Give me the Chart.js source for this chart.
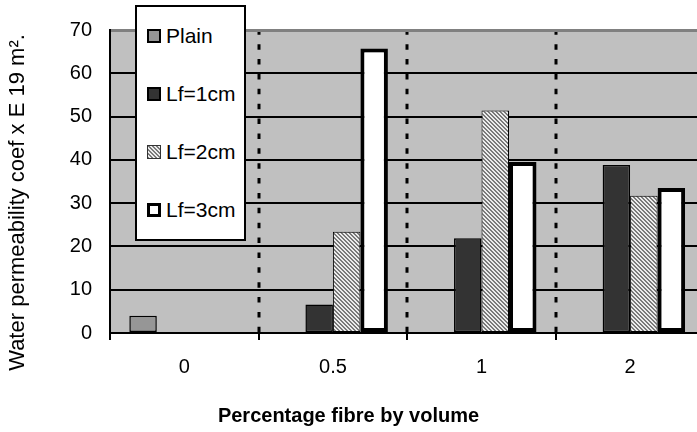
<!DOCTYPE html>
<html lang="en">
<head>
  <meta charset="UTF-8" />
  <title>Water permeability vs fibre content</title>
  <script src="https://cdn.jsdelivr.net/npm/chart.js"></script>
  <style>
    body { margin: 0; background: #fff; overflow: hidden; }
    #wrap { position: relative; width: 697px; height: 432px; }
    #legend {
      position: absolute; left: 135px; top: 5px; width: 111px; height: 236px;
      box-sizing: border-box; border: 2px solid #000; background: #fff;
      display: flex; flex-direction: column; justify-content: space-around;
      font: 21px "Liberation Sans", Arial, sans-serif; color: #000;
    }
    .item { display: flex; align-items: center; padding-left: 10px; }
    .swatch { width: 14px; height: 14px; box-sizing: border-box; margin-right: 5px; }
  </style>
</head>
<body>
  <div id="wrap">
    <canvas id="chart"></canvas>
    <div id="legend"></div>
  </div>

  <script>
    // values
    const categories = ['0', '0.5', '1', '2'];
    const seriesNames = ['Plain', 'Lf=1cm', 'Lf=2cm', 'Lf=3cm'];
    const plain = [4.0, null, null, null];
    const lf1cm = [null, 6.6, 21.9, 38.8];
    const lf2cm = [null, 23.4, 51.4, 31.7];
    const lf3cm = [null, 65.7, 39.5, 33.5];
    const yMin = 0, yMax = 70, yStep = 10;

    const xTitle = 'Percentage fibre by volume';
    const yTitle = 'Water permeability coef x E 19 m\u00B2.';

    Chart.defaults.font.family = '"Liberation Sans", Arial, sans-serif';
    Chart.defaults.color = '#000';

    // fine diagonal hatch used for the Lf=2cm bars
    function makeHatch() {
      const c = document.createElement('canvas');
      c.width = 4; c.height = 4;
      const g = c.getContext('2d');
      g.fillStyle = '#ececec';
      g.fillRect(0, 0, 4, 4);
      g.fillStyle = '#7a7a7a';
      for (let y = 0; y < 4; y++) {
        for (let x = 0; x < 4; x++) {
          if ((x - y + 4) % 4 < 2) g.fillRect(x, y, 1, 1);
        }
      }
      return c;
    }
    const hatchCanvas = makeHatch();
    const hatch = document.getElementById('chart').getContext('2d').createPattern(hatchCanvas, 'repeat');

    const fills = ['#969696', '#333333', hatch, '#ffffff'];
    const borders = [1.5, 1.5, 1, 4];

    const toPoints = arr => arr.map((v, i) => ({ x: i, y: v }));

    // grey plot area
    const plotBg = {
      id: 'plotBg',
      beforeDraw(chart) {
        const { ctx, chartArea: a } = chart;
        ctx.save();
        ctx.fillStyle = '#c0c0c0';
        ctx.fillRect(a.left, a.top, a.right - a.left, a.bottom - a.top);
        ctx.restore();
      }
    };

    // dotted separators between categories + tick marks below the axis
    const separators = {
      id: 'separators',
      beforeDatasetsDraw(chart) {
        const { ctx, chartArea: a, scales: { x } } = chart;
        ctx.save();
        ctx.strokeStyle = '#000';
        for (let i = -1; i < categories.length; i++) {
          const px = Math.round(x.getPixelForValue(i + 0.5));
          if (px > a.right) continue;
          if (i >= 0) {
            ctx.lineWidth = 3;
            ctx.setLineDash([5.5, 9.38]);
            ctx.lineDashOffset = 2.75;
            ctx.beginPath();
            ctx.moveTo(px, a.top + 2);
            ctx.lineTo(px, a.bottom);
            ctx.stroke();
          }
          ctx.setLineDash([]);
          ctx.lineWidth = 2;
          ctx.beginPath();
          ctx.moveTo(px, a.bottom);
          ctx.lineTo(px, a.bottom + 7);
          ctx.stroke();
        }
        ctx.restore();
      }
    };

    // rotated y title, centred a little below the plot centre like the original
    const yTitlePlugin = {
      id: 'yTitle',
      afterDraw(chart) {
        const { ctx, chartArea: a } = chart;
        ctx.save();
        ctx.translate(18, (a.top + a.bottom) / 2 + 21);
        ctx.rotate(-Math.PI / 2);
        ctx.font = '22px "Liberation Sans", Arial, sans-serif';
        ctx.fillStyle = '#000';
        ctx.textAlign = 'center';
        ctx.textBaseline = 'middle';
        ctx.fillText(yTitle, 0, 0);
        ctx.restore();
      }
    };

    const seriesData = [plain, lf1cm, lf2cm, lf3cm];

    new Chart(document.getElementById('chart'), {
      type: 'bar',
      data: {
        datasets: seriesData.map((arr, i) => ({
          label: seriesNames[i],
          data: toPoints(arr),
          backgroundColor: fills[i],
          borderColor: '#000',
          borderWidth: borders[i],
          borderSkipped: false,
          barPercentage: 1,
          categoryPercentage: 0.74
        }))
      },
      options: {
        responsive: true,
        maintainAspectRatio: false,
        animation: false,
        events: [],
        layout: { padding: { top: 20, left: 0, right: 0, bottom: 0 } },
        plugins: {
          legend: { display: false },
          tooltip: { enabled: false },
          title: {
            display: true,
            position: 'bottom',
            text: xTitle,
            color: '#000',
            font: { size: 20, weight: 'bold' },
            padding: { top: 0, bottom: 4 }
          }
        },
        scales: {
          x: {
            type: 'linear',
            offset: false,
            min: -0.5,
            max: 3.45,
            afterBuildTicks: s => { s.ticks = categories.map((c, i) => ({ value: i })); },
            afterFit: s => { s.height = 71; },
            grid: { display: false, drawTicks: false, offset: false },
            border: { color: '#000', width: 2 },
            ticks: {
              autoSkip: false,
              maxRotation: 0,
              padding: 22,
              font: { size: 20 },
              color: '#000',
              callback: v => categories[v] ?? ''
            }
          },
          y: {
            min: yMin,
            max: yMax,
            afterFit: s => { s.width = 110; },
            ticks: { stepSize: yStep, padding: 18, font: { size: 20 }, color: '#000' },
            grid: {
              drawTicks: false,
              color: c => c.tick.value === yMax ? '#808080' : '#000',
              lineWidth: c => c.tick.value === yMax ? 3 : 2
            },
            border: { color: '#000', width: 2 }
          }
        }
      },
      plugins: [plotBg, separators, yTitlePlugin]
    });

    // legend box
    const legend = document.getElementById('legend');
    seriesNames.forEach((name, i) => {
      const item = document.createElement('div');
      item.className = 'item';
      const sw = document.createElement('span');
      sw.className = 'swatch';
      if (i === 2) {
        sw.style.backgroundImage = 'url(' + hatchCanvas.toDataURL() + ')';
        sw.style.border = '1px solid #333';
      } else {
        sw.style.background = fills[i];
        sw.style.border = (i === 3 ? 3 : 2) + 'px solid #000';
      }
      item.appendChild(sw);
      item.appendChild(document.createTextNode(name));
      legend.appendChild(item);
    });
  </script>
</body>
</html>
